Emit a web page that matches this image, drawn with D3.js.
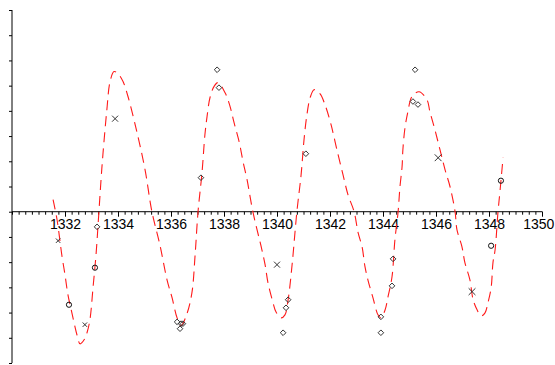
<!DOCTYPE html>
<html>
<head>
<meta charset="utf-8">
<script src="https://cdn.jsdelivr.net/npm/d3@7/dist/d3.min.js"></script>
<style>
  html, body { margin: 0; padding: 0; background: #fff; overflow: hidden; }
  svg { display: block; }
  .tick text { font-family: "Liberation Sans", Arial, Helvetica, sans-serif; }
</style>
</head>
<body>
<svg id="chart" width="555" height="365"></svg>
<script>
// Fitted curve, sampled as (year, value) pairs
const curveYears = [1331.55,1331.70,1331.89,1332.00,1332.11,1332.26,1332.45,1332.57,1332.72,1332.83,1332.94,1333.06,1333.17,1333.28,1333.36,1333.43,1333.58,1333.70,1333.85,1334.00,1334.19,1334.38,1334.72,1335.02,1335.28,1335.58,1335.85,1336.04,1336.23,1336.38,1336.60,1336.79,1336.91,1337.02,1337.17,1337.28,1337.36,1337.47,1337.62,1337.77,1338.04,1338.23,1338.38,1338.57,1338.72,1338.87,1339.09,1339.43,1339.55,1339.66,1339.85,1339.96,1340.15,1340.30,1340.42,1340.57,1340.75,1340.91,1341.02,1341.13,1341.25,1341.40,1341.62,1341.81,1342.04,1342.26,1342.49,1342.68,1342.91,1343.06,1343.21,1343.32,1343.43,1343.62,1343.81,1343.92,1344.08,1344.19,1344.34,1344.45,1344.57,1344.64,1344.72,1344.75,1344.83,1344.94,1345.09,1345.36,1345.66,1345.77,1345.96,1346.15,1346.34,1346.53,1346.72,1346.79,1346.98,1347.09,1347.28,1347.40,1347.55,1347.70,1347.85,1347.96,1348.08,1348.15,1348.23,1348.34,1348.42,1348.53];
const curveValues = [0.48,-0.32,-1.79,-2.50,-3.29,-4.01,-4.88,-5.24,-5.08,-4.80,-4.29,-2.98,-1.71,0,1.27,2.26,4.05,5.16,5.56,5.48,5.16,4.56,3.13,1.67,0,-1.31,-2.70,-3.41,-4.21,-4.52,-4.05,-3.21,-1.71,0,1.55,3.06,3.77,4.52,4.96,5.12,4.72,4.17,3.53,2.78,1.98,1.27,0,-1.51,-2.10,-2.82,-3.61,-3.97,-4.21,-4.09,-3.49,-2.10,0,1.47,2.86,3.85,4.52,4.84,4.68,4.25,3.45,2.46,1.47,0.67,0,-0.83,-1.39,-2.18,-2.70,-3.41,-4.09,-4.21,-3.89,-3.37,-2.58,-1.11,0,0.99,1.79,2.46,3.33,3.97,4.56,4.76,4.44,3.97,3.25,2.46,1.67,0.99,0,-0.71,-1.39,-2.02,-2.70,-3.49,-3.89,-4.13,-4.01,-3.61,-3.02,-2.02,-1.51,0,0.87,2.14];

// Observations, grouped by marker
const crossYears  = [1331.74,1332.75,1333.89,1340.00,1346.08,1347.36];
const crossValues = [-1.15,-4.48,3.69,-2.10,2.14,-3.17];
const crossSizes  = [2.2,2.2,3,3,3.4,3.4];

const circleYears  = [1332.15,1333.13,1348.08,1348.45];
const circleValues = [-3.69,-2.22,-1.35,1.23];

const diamondYears  = [1333.21,1337.13,1337.74,1337.81,1336.23,1336.38,1336.45,1336.34,1340.23,1340.34,1340.42,1341.09,1343.92,1343.92,1344.34,1344.38,1345.21,1345.13,1345.32];
const diamondValues = [-0.60,1.35,5.63,4.92,-4.37,-4.44,-4.44,-4.64,-4.80,-3.81,-3.49,2.30,-4.17,-4.80,-2.94,-1.87,5.63,4.37,4.25];

const xTickLabels = [1332,1334,1336,1338,1340,1342,1344,1346,1348,1350];
const yTickValues = [-6,-5,-4,-3,-2,-1,0,1,2,3,4,5,6,7,8];

const W = 555;
const svg = d3.select("#chart");

const x = d3.scaleLinear().domain([1330, 1350]).range([12, 542]);
const y = d3.scaleLinear().domain([-6, 8]).range([363, 10]);

// Horizontal axis through value 0
const xMinor = d3.range(1330, 1350.001, 0.25);
const xAxisMinor = d3.axisBottom(x).tickValues(xMinor).tickSize(3).tickFormat("");
const gxm = svg.append("g").attr("transform", `translate(0,${y(0)})`).call(xAxisMinor);
gxm.select(".domain").attr("stroke", "#000").attr("d", `M${x(1330)},0H${x(1350)}`);
gxm.selectAll(".tick line").attr("stroke", "#000");

const xAxis = d3.axisBottom(x).tickValues(xTickLabels).tickSize(5).tickFormat(d3.format("d"));
const gx = svg.append("g").attr("transform", `translate(0,${y(0)})`).call(xAxis);
gx.select(".domain").remove();
gx.selectAll(".tick line").attr("stroke", "#000");
gx.selectAll(".tick text")
  .attr("font-size", 14)
  .attr("fill", "#000")
  .attr("y", 17)
  .attr("dy", null);

// Keep the last label inside the canvas
gx.selectAll(".tick text").each(function(d) {
  const box = this.getBBox();
  const right = x(d) + box.x + box.width;
  if (right > W - 1) d3.select(this).attr("x", (W - 1) - right);
});

// Vertical axis at the left edge
const yAxis = d3.axisLeft(y).tickValues(yTickValues).tickSize(3).tickFormat("");
const gy = svg.append("g").attr("transform", `translate(${x(1330)},0)`).call(yAxis);
gy.select(".domain").attr("stroke", "#000").attr("d", `M0,${y(8)}V${y(-6)}`);
gy.selectAll(".tick line").attr("stroke", "#000");

// Dashed fitted curve
const curvePts = curveYears.map((t, i) => [t, curveValues[i]]);
const line = d3.line().x(d => x(d[0])).y(d => y(d[1])).curve(d3.curveCatmullRom.alpha(0.5));
svg.append("path")
  .datum(curvePts)
  .attr("d", line)
  .attr("fill", "none")
  .attr("stroke", "#ff1a1a")
  .attr("stroke-width", 1.1)
  .attr("stroke-dasharray", "10,6");

// Markers
const mk = svg.append("g").attr("fill", "none").attr("stroke", "#333").attr("stroke-width", 1);

mk.selectAll("path.diamond")
  .data(diamondYears.map((t, i) => [t, diamondValues[i]]))
  .join("path")
  .attr("class", "diamond")
  .attr("d", d => {
    const cx = x(d[0]), cy = y(d[1]), r = 2.8;
    return `M${cx},${cy - r}L${cx + r},${cy}L${cx},${cy + r}L${cx - r},${cy}Z`;
  });

mk.selectAll("circle")
  .data(circleYears.map((t, i) => [t, circleValues[i]]))
  .join("circle")
  .attr("cx", d => x(d[0]))
  .attr("cy", d => y(d[1]))
  .attr("r", 2.6)
  .attr("stroke", "#111");

mk.selectAll("path.cross")
  .data(crossYears.map((t, i) => [t, crossValues[i], crossSizes[i]]))
  .join("path")
  .attr("class", "cross")
  .attr("d", d => {
    const cx = x(d[0]), cy = y(d[1]), r = d[2];
    return `M${cx - r},${cy - r}L${cx + r},${cy + r}M${cx - r},${cy + r}L${cx + r},${cy - r}`;
  });
</script>
</body>
</html>
